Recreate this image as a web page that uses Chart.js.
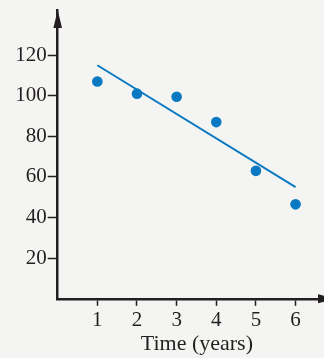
<!DOCTYPE html>
<html>
<head>
<meta charset="utf-8">
<script src="https://cdn.jsdelivr.net/npm/chart.js@4.4.1/dist/chart.umd.min.js"></script>
<style>
  html, body { margin: 0; padding: 0; background: #f4f5f2; overflow: hidden; }
  body { width: 324px; height: 358px; }
  /* the time axis runs on past the right edge of the page */
  #wrap { width: 336px; height: 358px; position: relative; }
</style>
</head>
<body>
<div id="wrap"><canvas id="myChart"></canvas></div>
<script>
const years = [1, 2, 3, 4, 5, 6];
const values = [107, 101, 99.5, 87, 63, 46.5];
// end points of the fitted trend line
const trendX = [1, 6];
const trendY = [115, 55];
const xTicks = [1, 2, 3, 4, 5, 6];
const yTicks = [20, 40, 60, 80, 100, 120];

const ink = "#231f20";
const blue = "#0a79c2";
const serif = "'Liberation Serif', 'DejaVu Serif', serif";

// arrow heads on the ends of both axes
const axisArrows = {
  id: "axisArrows",
  afterDraw(chart) {
    const ctx = chart.ctx;
    const { left, right, top, bottom } = chart.chartArea;
    ctx.save();
    ctx.fillStyle = ink;
    ctx.beginPath();
    ctx.moveTo(left, top);
    ctx.lineTo(left - 4.3, top + 18);
    ctx.lineTo(left + 4.3, top + 18);
    ctx.closePath();
    ctx.fill();
    ctx.beginPath();
    ctx.moveTo(right, bottom);
    ctx.lineTo(right - 18, bottom - 4.5);
    ctx.lineTo(right - 18, bottom + 4.5);
    ctx.closePath();
    ctx.fill();
    ctx.restore();
  },
};

const ctx = document.getElementById("myChart").getContext("2d");

new Chart(ctx, {
  type: "scatter",
  data: {
    datasets: [
      {
        label: "trend",
        data: trendX.map((x, i) => ({ x: x, y: trendY[i] })),
        showLine: true,
        borderColor: blue,
        borderWidth: 2,
        pointRadius: 0,
        pointHoverRadius: 0,
      },
      {
        label: "values",
        data: years.map((x, i) => ({ x: x, y: values[i] })),
        backgroundColor: blue,
        borderWidth: 0,
        pointRadius: 5.3,
      },
    ],
  },
  options: {
    responsive: true,
    maintainAspectRatio: false,
    animation: false,
    layout: {
      autoPadding: false,
      padding: { top: 10, right: 0, left: 0, bottom: 0 },
    },
    scales: {
      x: {
        type: "linear",
        min: 0,
        max: 7.02,
        afterBuildTicks: (scale) => {
          scale.ticks = xTicks.map((v) => ({ value: v }));
        },
        afterFit: (scale) => {
          scale.height = 59.2;
          scale.paddingLeft = 0;
          scale.paddingRight = 0;
        },
        ticks: {
          color: ink,
          padding: 2,
          font: { family: serif, size: 21 },
        },
        grid: {
          drawOnChartArea: false,
          drawTicks: true,
          tickLength: 7,
          tickWidth: 1.5,
          tickColor: ink,
        },
        border: {
          color: ink,
          width: 2.5,
        },
        title: {
          display: true,
          text: "Time (years)",
          color: ink,
          padding: { top: 0, bottom: 1 },
          font: { family: serif, size: 22 },
        },
      },
      y: {
        type: "linear",
        min: 0,
        max: 142.2,
        afterBuildTicks: (scale) => {
          scale.ticks = yTicks.map((v) => ({ value: v }));
        },
        afterFit: (scale) => {
          scale.width = 57.7;
          scale.paddingTop = 0;
          scale.paddingBottom = 0;
        },
        ticks: {
          color: ink,
          padding: 1,
          font: { family: serif, size: 21 },
        },
        grid: {
          drawOnChartArea: false,
          drawTicks: true,
          tickLength: 10,
          tickWidth: 1.5,
          tickColor: ink,
        },
        border: {
          color: ink,
          width: 2.5,
        },
      },
    },
    plugins: {
      legend: { display: false },
      tooltip: { enabled: false },
    },
  },
  plugins: [axisArrows],
});
</script>
</body>
</html>
